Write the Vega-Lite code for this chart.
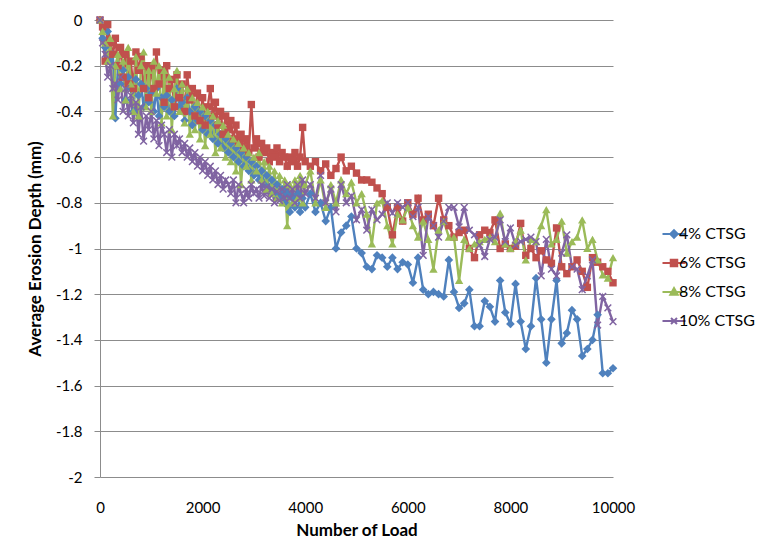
{
"$schema": "https://vega.github.io/schema/vega-lite/v6.json",
"width": 513, "height": 457,
"autosize": {"type": "none"},
"padding": {"left": 100, "top": 20, "right": 161, "bottom": 81},
"background": "white",
"config": {"view": {"stroke": null}, "font": "Lato"},
"data": {"values": [
{"load":0,"4% CTSG":0,"6% CTSG":0,"8% CTSG":0,"10% CTSG":0},
{"load":50,"4% CTSG":-0.08,"6% CTSG":-0.03,"8% CTSG":-0.05,"10% CTSG":-0.1},
{"load":100,"4% CTSG":-0.12,"6% CTSG":-0.18,"8% CTSG":-0.1,"10% CTSG":-0.15},
{"load":150,"4% CTSG":-0.05,"6% CTSG":-0.02,"8% CTSG":-0.18,"10% CTSG":-0.25},
{"load":200,"4% CTSG":-0.18,"6% CTSG":-0.1,"8% CTSG":-0.08,"10% CTSG":-0.2},
{"load":250,"4% CTSG":-0.15,"6% CTSG":-0.15,"8% CTSG":-0.42,"10% CTSG":-0.3},
{"load":300,"4% CTSG":-0.43,"6% CTSG":-0.08,"8% CTSG":-0.2,"10% CTSG":-0.28},
{"load":350,"4% CTSG":-0.2,"6% CTSG":-0.2,"8% CTSG":-0.15,"10% CTSG":-0.35},
{"load":400,"4% CTSG":-0.28,"6% CTSG":-0.12,"8% CTSG":-0.3,"10% CTSG":-0.25},
{"load":450,"4% CTSG":-0.22,"6% CTSG":-0.25,"8% CTSG":-0.18,"10% CTSG":-0.4},
{"load":500,"4% CTSG":-0.35,"6% CTSG":-0.15,"8% CTSG":-0.35,"10% CTSG":-0.3},
{"load":550,"4% CTSG":-0.25,"6% CTSG":-0.28,"8% CTSG":-0.12,"10% CTSG":-0.42},
{"load":600,"4% CTSG":-0.3,"6% CTSG":-0.18,"8% CTSG":-0.28,"10% CTSG":-0.33},
{"load":650,"4% CTSG":-0.4,"6% CTSG":-0.3,"8% CTSG":-0.4,"10% CTSG":-0.45},
{"load":700,"4% CTSG":-0.26,"6% CTSG":-0.14,"8% CTSG":-0.16,"10% CTSG":-0.36},
{"load":750,"4% CTSG":-0.33,"6% CTSG":-0.22,"8% CTSG":-0.42,"10% CTSG":-0.5},
{"load":800,"4% CTSG":-0.28,"6% CTSG":-0.16,"8% CTSG":-0.2,"10% CTSG":-0.38},
{"load":850,"4% CTSG":-0.38,"6% CTSG":-0.3,"8% CTSG":-0.14,"10% CTSG":-0.53},
{"load":900,"4% CTSG":-0.3,"6% CTSG":-0.2,"8% CTSG":-0.38,"10% CTSG":-0.42},
{"load":950,"4% CTSG":-0.36,"6% CTSG":-0.34,"8% CTSG":-0.22,"10% CTSG":-0.48},
{"load":1000,"4% CTSG":-0.32,"6% CTSG":-0.2,"8% CTSG":-0.4,"10% CTSG":-0.4},
{"load":1050,"4% CTSG":-0.4,"6% CTSG":-0.3,"8% CTSG":-0.18,"10% CTSG":-0.52},
{"load":1100,"4% CTSG":-0.3,"6% CTSG":-0.14,"8% CTSG":-0.32,"10% CTSG":-0.44},
{"load":1150,"4% CTSG":-0.42,"6% CTSG":-0.28,"8% CTSG":-0.2,"10% CTSG":-0.55},
{"load":1200,"4% CTSG":-0.34,"6% CTSG":-0.22,"8% CTSG":-0.45,"10% CTSG":-0.46},
{"load":1250,"4% CTSG":-0.38,"6% CTSG":-0.36,"8% CTSG":-0.22,"10% CTSG":-0.5},
{"load":1300,"4% CTSG":-0.33,"6% CTSG":-0.2,"8% CTSG":-0.42,"10% CTSG":-0.58},
{"load":1350,"4% CTSG":-0.4,"6% CTSG":-0.3,"8% CTSG":-0.25,"10% CTSG":-0.48},
{"load":1400,"4% CTSG":-0.35,"6% CTSG":-0.26,"8% CTSG":-0.48,"10% CTSG":-0.6},
{"load":1450,"4% CTSG":-0.42,"6% CTSG":-0.38,"8% CTSG":-0.3,"10% CTSG":-0.5},
{"load":1500,"4% CTSG":-0.3,"6% CTSG":-0.24,"8% CTSG":-0.22,"10% CTSG":-0.55},
{"load":1550,"4% CTSG":-0.38,"6% CTSG":-0.34,"8% CTSG":-0.4,"10% CTSG":-0.52},
{"load":1600,"4% CTSG":-0.36,"6% CTSG":-0.28,"8% CTSG":-0.28,"10% CTSG":-0.58},
{"load":1650,"4% CTSG":-0.44,"6% CTSG":-0.4,"8% CTSG":-0.45,"10% CTSG":-0.54},
{"load":1700,"4% CTSG":-0.34,"6% CTSG":-0.24,"8% CTSG":-0.3,"10% CTSG":-0.6},
{"load":1750,"4% CTSG":-0.4,"6% CTSG":-0.35,"8% CTSG":-0.5,"10% CTSG":-0.56},
{"load":1800,"4% CTSG":-0.46,"6% CTSG":-0.3,"8% CTSG":-0.34,"10% CTSG":-0.62},
{"load":1850,"4% CTSG":-0.38,"6% CTSG":-0.42,"8% CTSG":-0.48,"10% CTSG":-0.58},
{"load":1900,"4% CTSG":-0.44,"6% CTSG":-0.32,"8% CTSG":-0.36,"10% CTSG":-0.64},
{"load":1950,"4% CTSG":-0.4,"6% CTSG":-0.44,"8% CTSG":-0.52,"10% CTSG":-0.6},
{"load":2000,"4% CTSG":-0.48,"6% CTSG":-0.34,"8% CTSG":-0.38,"10% CTSG":-0.66},
{"load":2050,"4% CTSG":-0.42,"6% CTSG":-0.46,"8% CTSG":-0.55,"10% CTSG":-0.62},
{"load":2100,"4% CTSG":-0.5,"6% CTSG":-0.38,"8% CTSG":-0.4,"10% CTSG":-0.68},
{"load":2150,"4% CTSG":-0.44,"6% CTSG":-0.3,"8% CTSG":-0.5,"10% CTSG":-0.64},
{"load":2200,"4% CTSG":-0.52,"6% CTSG":-0.42,"8% CTSG":-0.42,"10% CTSG":-0.7},
{"load":2250,"4% CTSG":-0.46,"6% CTSG":-0.36,"8% CTSG":-0.58,"10% CTSG":-0.66},
{"load":2300,"4% CTSG":-0.54,"6% CTSG":-0.46,"8% CTSG":-0.44,"10% CTSG":-0.72},
{"load":2350,"4% CTSG":-0.5,"6% CTSG":-0.4,"8% CTSG":-0.56,"10% CTSG":-0.68},
{"load":2400,"4% CTSG":-0.56,"6% CTSG":-0.5,"8% CTSG":-0.46,"10% CTSG":-0.74},
{"load":2450,"4% CTSG":-0.52,"6% CTSG":-0.42,"8% CTSG":-0.6,"10% CTSG":-0.7},
{"load":2500,"4% CTSG":-0.58,"6% CTSG":-0.48,"8% CTSG":-0.5,"10% CTSG":-0.72},
{"load":2550,"4% CTSG":-0.54,"6% CTSG":-0.44,"8% CTSG":-0.62,"10% CTSG":-0.76},
{"load":2600,"4% CTSG":-0.6,"6% CTSG":-0.52,"8% CTSG":-0.52,"10% CTSG":-0.7},
{"load":2650,"4% CTSG":-0.56,"6% CTSG":-0.46,"8% CTSG":-0.66,"10% CTSG":-0.8},
{"load":2700,"4% CTSG":-0.62,"6% CTSG":-0.54,"8% CTSG":-0.54,"10% CTSG":-0.72},
{"load":2750,"4% CTSG":-0.58,"6% CTSG":-0.5,"8% CTSG":-0.72,"10% CTSG":-0.76},
{"load":2800,"4% CTSG":-0.64,"6% CTSG":-0.56,"8% CTSG":-0.56,"10% CTSG":-0.8},
{"load":2850,"4% CTSG":-0.6,"6% CTSG":-0.52,"8% CTSG":-0.64,"10% CTSG":-0.74},
{"load":2900,"4% CTSG":-0.66,"6% CTSG":-0.58,"8% CTSG":-0.58,"10% CTSG":-0.78},
{"load":2950,"4% CTSG":-0.62,"6% CTSG":-0.37,"8% CTSG":-0.7,"10% CTSG":-0.72},
{"load":3000,"4% CTSG":-0.68,"6% CTSG":-0.56,"8% CTSG":-0.6,"10% CTSG":-0.76},
{"load":3050,"4% CTSG":-0.64,"6% CTSG":-0.52,"8% CTSG":-0.66,"10% CTSG":-0.74},
{"load":3100,"4% CTSG":-0.7,"6% CTSG":-0.6,"8% CTSG":-0.58,"10% CTSG":-0.78},
{"load":3150,"4% CTSG":-0.66,"6% CTSG":-0.54,"8% CTSG":-0.7,"10% CTSG":-0.72},
{"load":3200,"4% CTSG":-0.72,"6% CTSG":-0.58,"8% CTSG":-0.62,"10% CTSG":-0.77},
{"load":3250,"4% CTSG":-0.68,"6% CTSG":-0.56,"8% CTSG":-0.74,"10% CTSG":-0.73},
{"load":3300,"4% CTSG":-0.74,"6% CTSG":-0.62,"8% CTSG":-0.64,"10% CTSG":-0.78},
{"load":3350,"4% CTSG":-0.7,"6% CTSG":-0.58,"8% CTSG":-0.76,"10% CTSG":-0.74},
{"load":3400,"4% CTSG":-0.76,"6% CTSG":-0.6,"8% CTSG":-0.66,"10% CTSG":-0.8},
{"load":3450,"4% CTSG":-0.72,"6% CTSG":-0.56,"8% CTSG":-0.78,"10% CTSG":-0.75},
{"load":3500,"4% CTSG":-0.78,"6% CTSG":-0.62,"8% CTSG":-0.68,"10% CTSG":-0.79},
{"load":3550,"4% CTSG":-0.74,"6% CTSG":-0.58,"8% CTSG":-0.8,"10% CTSG":-0.74},
{"load":3600,"4% CTSG":-0.8,"6% CTSG":-0.6,"8% CTSG":-0.7,"10% CTSG":-0.78},
{"load":3650,"4% CTSG":-0.76,"6% CTSG":-0.64,"8% CTSG":-0.9,"10% CTSG":-0.72},
{"load":3700,"4% CTSG":-0.84,"6% CTSG":-0.6,"8% CTSG":-0.72,"10% CTSG":-0.78},
{"load":3750,"4% CTSG":-0.78,"6% CTSG":-0.62,"8% CTSG":-0.8,"10% CTSG":-0.74},
{"load":3800,"4% CTSG":-0.82,"6% CTSG":-0.58,"8% CTSG":-0.7,"10% CTSG":-0.8},
{"load":3850,"4% CTSG":-0.76,"6% CTSG":-0.64,"8% CTSG":-0.78,"10% CTSG":-0.72},
{"load":3900,"4% CTSG":-0.84,"6% CTSG":-0.6,"8% CTSG":-0.68,"10% CTSG":-0.78},
{"load":3950,"4% CTSG":-0.78,"6% CTSG":-0.47,"8% CTSG":-0.8,"10% CTSG":-0.7},
{"load":4000,"4% CTSG":-0.82,"6% CTSG":-0.62,"8% CTSG":-0.72,"10% CTSG":-0.76},
{"load":4100,"4% CTSG":-0.76,"6% CTSG":-0.64,"8% CTSG":-0.66,"10% CTSG":-0.72},
{"load":4200,"4% CTSG":-0.84,"6% CTSG":-0.62,"8% CTSG":-0.8,"10% CTSG":-0.78},
{"load":4300,"4% CTSG":-0.8,"6% CTSG":-0.66,"8% CTSG":-0.7,"10% CTSG":-0.68},
{"load":4400,"4% CTSG":-0.88,"6% CTSG":-0.63,"8% CTSG":-0.82,"10% CTSG":-0.8},
{"load":4500,"4% CTSG":-0.82,"6% CTSG":-0.68,"8% CTSG":-0.72,"10% CTSG":-0.74},
{"load":4600,"4% CTSG":-1.0,"6% CTSG":-0.65,"8% CTSG":-0.8,"10% CTSG":-0.84},
{"load":4700,"4% CTSG":-0.93,"6% CTSG":-0.6,"8% CTSG":-0.7,"10% CTSG":-0.72},
{"load":4800,"4% CTSG":-0.9,"6% CTSG":-0.66,"8% CTSG":-0.76,"10% CTSG":-0.8},
{"load":4900,"4% CTSG":-0.86,"6% CTSG":-0.64,"8% CTSG":-0.71,"10% CTSG":-0.77},
{"load":5000,"4% CTSG":-1.0,"6% CTSG":-0.67,"8% CTSG":-0.8,"10% CTSG":-0.875},
{"load":5100,"4% CTSG":-1.02,"6% CTSG":-0.7,"8% CTSG":-0.76,"10% CTSG":-0.83},
{"load":5200,"4% CTSG":-1.08,"6% CTSG":-0.7,"8% CTSG":-0.85,"10% CTSG":-0.92},
{"load":5300,"4% CTSG":-1.09,"6% CTSG":-0.71,"8% CTSG":-0.98,"10% CTSG":-0.83},
{"load":5400,"4% CTSG":-1.03,"6% CTSG":-0.735,"8% CTSG":-0.8,"10% CTSG":-0.875},
{"load":5500,"4% CTSG":-1.04,"6% CTSG":-0.76,"8% CTSG":-0.79,"10% CTSG":-0.85},
{"load":5600,"4% CTSG":-1.08,"6% CTSG":-0.82,"8% CTSG":-0.9,"10% CTSG":-0.8},
{"load":5700,"4% CTSG":-1.04,"6% CTSG":-0.94,"8% CTSG":-0.98,"10% CTSG":-0.845},
{"load":5800,"4% CTSG":-1.09,"6% CTSG":-0.82,"8% CTSG":-0.85,"10% CTSG":-0.8},
{"load":5900,"4% CTSG":-1.06,"6% CTSG":-0.88,"8% CTSG":-0.875,"10% CTSG":-0.82},
{"load":6000,"4% CTSG":-1.07,"6% CTSG":-0.8,"8% CTSG":-0.82,"10% CTSG":-0.8},
{"load":6100,"4% CTSG":-1.15,"6% CTSG":-0.85,"8% CTSG":-0.9,"10% CTSG":-0.86},
{"load":6200,"4% CTSG":-1.04,"6% CTSG":-0.78,"8% CTSG":-0.95,"10% CTSG":-0.82},
{"load":6300,"4% CTSG":-1.18,"6% CTSG":-0.875,"8% CTSG":-0.88,"10% CTSG":-1.03},
{"load":6400,"4% CTSG":-1.2,"6% CTSG":-0.85,"8% CTSG":-0.96,"10% CTSG":-0.86},
{"load":6500,"4% CTSG":-1.19,"6% CTSG":-0.9,"8% CTSG":-1.09,"10% CTSG":-0.9},
{"load":6600,"4% CTSG":-1.2,"6% CTSG":-0.78,"8% CTSG":-0.92,"10% CTSG":-0.95},
{"load":6700,"4% CTSG":-1.21,"6% CTSG":-0.875,"8% CTSG":-0.88,"10% CTSG":-0.88},
{"load":6800,"4% CTSG":-1.05,"6% CTSG":-0.9,"8% CTSG":-0.95,"10% CTSG":-0.82},
{"load":6900,"4% CTSG":-1.19,"6% CTSG":-0.95,"8% CTSG":-0.95,"10% CTSG":-0.82},
{"load":7000,"4% CTSG":-1.26,"6% CTSG":-0.93,"8% CTSG":-1.14,"10% CTSG":-0.905},
{"load":7100,"4% CTSG":-1.24,"6% CTSG":-0.92,"8% CTSG":-0.96,"10% CTSG":-0.82},
{"load":7200,"4% CTSG":-1.18,"6% CTSG":-1.0,"8% CTSG":-1.0,"10% CTSG":-0.92},
{"load":7300,"4% CTSG":-1.34,"6% CTSG":-1.04,"8% CTSG":-0.98,"10% CTSG":-0.94},
{"load":7400,"4% CTSG":-1.34,"6% CTSG":-0.94,"8% CTSG":-0.97,"10% CTSG":-0.985},
{"load":7500,"4% CTSG":-1.23,"6% CTSG":-0.92,"8% CTSG":-0.96,"10% CTSG":-1.035},
{"load":7600,"4% CTSG":-1.255,"6% CTSG":-0.93,"8% CTSG":-0.95,"10% CTSG":-0.96},
{"load":7700,"4% CTSG":-1.32,"6% CTSG":-0.875,"8% CTSG":-0.97,"10% CTSG":-0.95},
{"load":7800,"4% CTSG":-1.14,"6% CTSG":-1.0,"8% CTSG":-0.845,"10% CTSG":-0.875},
{"load":7900,"4% CTSG":-1.28,"6% CTSG":-0.98,"8% CTSG":-0.98,"10% CTSG":-0.97},
{"load":8000,"4% CTSG":-1.33,"6% CTSG":-1.0,"8% CTSG":-1.0,"10% CTSG":-0.91},
{"load":8100,"4% CTSG":-1.155,"6% CTSG":-0.99,"8% CTSG":-0.97,"10% CTSG":-0.985},
{"load":8200,"4% CTSG":-1.32,"6% CTSG":-0.89,"8% CTSG":-0.92,"10% CTSG":-0.97},
{"load":8300,"4% CTSG":-1.44,"6% CTSG":-1.03,"8% CTSG":-1.05,"10% CTSG":-0.96},
{"load":8400,"4% CTSG":-1.34,"6% CTSG":-1.0,"8% CTSG":-0.96,"10% CTSG":-0.95},
{"load":8500,"4% CTSG":-1.13,"6% CTSG":-1.04,"8% CTSG":-0.97,"10% CTSG":-0.97},
{"load":8600,"4% CTSG":-1.31,"6% CTSG":-1.01,"8% CTSG":-0.9,"10% CTSG":-1.12},
{"load":8700,"4% CTSG":-1.5,"6% CTSG":-1.05,"8% CTSG":-0.83,"10% CTSG":-0.96},
{"load":8800,"4% CTSG":-1.31,"6% CTSG":-1.065,"8% CTSG":-0.98,"10% CTSG":-1.09},
{"load":8900,"4% CTSG":-1.14,"6% CTSG":-0.91,"8% CTSG":-0.96,"10% CTSG":-1.12},
{"load":9000,"4% CTSG":-1.415,"6% CTSG":-1.08,"8% CTSG":-0.88,"10% CTSG":-1.02},
{"load":9100,"4% CTSG":-1.37,"6% CTSG":-1.11,"8% CTSG":-1.02,"10% CTSG":-0.94},
{"load":9200,"4% CTSG":-1.27,"6% CTSG":-1.08,"8% CTSG":-0.97,"10% CTSG":-1.08},
{"load":9300,"4% CTSG":-1.31,"6% CTSG":-1.05,"8% CTSG":-0.95,"10% CTSG":-1.09},
{"load":9400,"4% CTSG":-1.47,"6% CTSG":-1.1,"8% CTSG":-0.875,"10% CTSG":-1.18},
{"load":9500,"4% CTSG":-1.44,"6% CTSG":-1.17,"8% CTSG":-1.0,"10% CTSG":-1.12},
{"load":9600,"4% CTSG":-1.4,"6% CTSG":-1.04,"8% CTSG":-0.96,"10% CTSG":-1.05},
{"load":9700,"4% CTSG":-1.29,"6% CTSG":-1.06,"8% CTSG":-1.05,"10% CTSG":-1.335},
{"load":9800,"4% CTSG":-1.546,"6% CTSG":-1.08,"8% CTSG":-1.115,"10% CTSG":-1.21},
{"load":9900,"4% CTSG":-1.546,"6% CTSG":-1.1,"8% CTSG":-1.13,"10% CTSG":-1.26},
{"load":10000,"4% CTSG":-1.524,"6% CTSG":-1.15,"8% CTSG":-1.04,"10% CTSG":-1.32}
]},
"transform": [{"fold": ["4% CTSG", "6% CTSG", "8% CTSG", "10% CTSG"], "as": ["series", "depth"]}],
"encoding": {
  "x": {"field": "load", "type": "quantitative", "scale": {"domain": [0, 10000], "nice": false},
    "axis": {"orient": "bottom", "values": [0, 2000, 4000, 6000, 8000, 10000], "format": "d", "title": "Number of Load",
      "titleFontSize": 17, "titleFontWeight": "bold", "titleColor": "black", "titlePadding": 7, "labelFlush": false,
      "labelFontSize": 15, "labelColor": "black", "labelPadding": 23, "ticks": false, "domain": false, "grid": false}},
  "y": {"field": "depth", "type": "quantitative", "scale": {"domain": [-2, 0], "nice": false},
    "axis": {"values": [0, -0.2, -0.4, -0.6, -0.8, -1, -1.2, -1.4, -1.6, -1.8, -2], "labelExpr": "'' + datum.value",
      "title": "Average Erosion Depth (mm)", "titleFontSize": 17, "titleFontWeight": "bold", "titleColor": "black", "titlePadding": 11,
      "labelFontSize": 15, "labelColor": "black", "labelPadding": 12, "tickSize": 6, "tickColor": "#8c8c8c", "labelFlush": false,
      "domainColor": "#8c8c8c", "gridColor": "#8c8c8c", "gridWidth": 1, "grid": true}},
  "color": {"field": "series", "type": "nominal",
     "scale": {"domain": ["4% CTSG", "6% CTSG", "8% CTSG", "10% CTSG"], "range": ["#4F81BD", "#C0504D", "#9BBB59", "#8064A2"]}}
},
"layer": [
  {"mark": {"type": "line", "strokeWidth": 2.4},
   "encoding": {"color": {"field": "series", "type": "nominal",
     "legend": {"title": null, "orient": "none", "legendX": 566, "legendY": 206, "labelFontSize": 16, "labelColor": "black",
       "symbolSize": 100, "symbolStrokeWidth": 2, "labelOffset": -3, "rowPadding": 13,
       "encode": {"symbols": {"update": {
         "shape": {"signal": "datum.value === '4% CTSG' ? 'M-2.3,0L2.3,0M0,-0.75L0.75,0L0,0.75L-0.75,0Z' : datum.value === '6% CTSG' ? 'M-2.3,0L2.3,0M-0.65,-0.65L0.65,-0.65L0.65,0.65L-0.65,0.65Z' : datum.value === '8% CTSG' ? 'M-2.3,0L2.3,0M0,-0.8L0.75,0.55L-0.75,0.55Z' : 'M-2.3,0L2.3,0M-0.6,-0.6L0.6,0.6M-0.6,0.6L0.6,-0.6'"},
         "fill": {"scale": "color", "field": "value"},
         "stroke": {"scale": "color", "field": "value"},
         "strokeWidth": {"value": 2},
         "opacity": {"value": 1}}}}}}}},
  {"transform": [{"filter": "datum.series === '4% CTSG'"}],
   "mark": {"type": "point", "shape": "diamond", "filled": true, "size": 75, "opacity": 1}},
  {"transform": [{"filter": "datum.series === '6% CTSG'"}],
   "mark": {"type": "point", "shape": "square", "filled": true, "size": 55, "opacity": 1}},
  {"transform": [{"filter": "datum.series === '8% CTSG'"}],
   "mark": {"type": "point", "shape": "triangle-up", "filled": true, "size": 70, "opacity": 1}},
  {"transform": [{"filter": "datum.series === '10% CTSG'"}],
   "mark": {"type": "point", "shape": "M-1,-1L1,1M-1,1L1,-1", "filled": false, "size": 45, "strokeWidth": 1.5, "opacity": 1}}
]
}
